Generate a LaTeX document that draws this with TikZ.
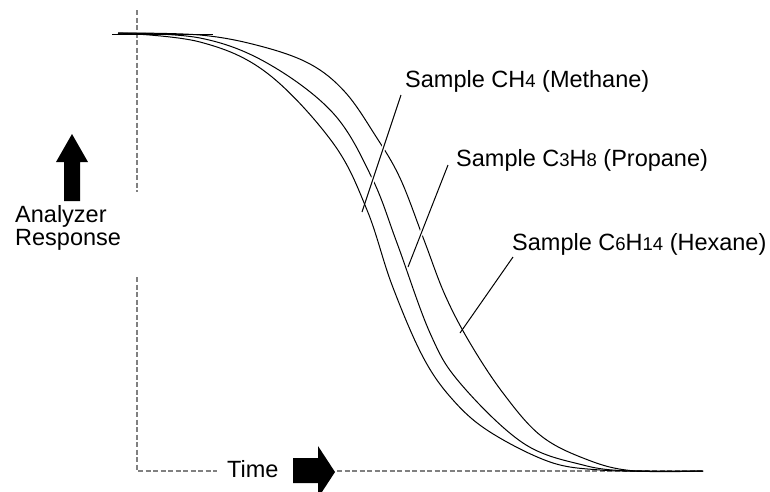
\documentclass[tikz,border=0pt]{standalone}
\usepackage{fontspec}
\setmainfont{Liberation Sans}
\usetikzlibrary{calc}
\newcommand{\sm}[1]{{\fontsize{18.5}{20}\selectfont #1}}
\begin{document}
\begin{tikzpicture}[x=1pt,y=-1pt,
  curve/.style={line width=1pt, black, line join=round},
  axisline/.style={gray, line width=1.3pt, dash pattern=on 5pt off 2.5pt},
  lbl/.style={anchor=base west, inner sep=0pt, font=\fontsize{23.5}{27}\selectfont},
  leader/.style={line width=1pt, black},
  halo/.style={white, line width=4pt},
  bigarrow/.style={fill=black, draw=none}]
\useasboundingbox (0,0) rectangle (770,491);
\clip (0,0) rectangle (770,491);
% axes
\coordinate (yt) at (137,10);
\coordinate (yg1) at (137,192);
\coordinate (yg2) at (137,277);
\coordinate (o) at (137,471);
\coordinate (xg1) at (217,471);
\coordinate (xg2) at (337,471);
\coordinate (xe) at (703,471);
\draw[axisline] (yt) -- (yg1);
\draw[axisline] (yg2) -- (o) -- (xg1);
\draw[axisline] (xg2) -- (xe);
% top line
\coordinate (tl1) at (112,34.5);
\coordinate (tl2) at (213,34.5);
\draw[curve] (tl1) -- (tl2);
% curves
\draw[curve] plot[smooth, tension=0.6] coordinates {(118,33) (200,42) (267,73) (333,143) (367,210) (392,285) (423,357) (453,400) (490,432) (550,462) (600,470) (650,471) (703,471)};
\draw[curve] plot[smooth, tension=0.6] coordinates {(118,33) (200,38) (267,63) (333,113) (372,178) (397,243) (430,333) (460,383) (523,443) (583,465) (630,471) (703,471)};
\draw[curve] plot[smooth, tension=0.6] coordinates {(118,33) (200,35) (260,46) (310,64) (345,92) (375,135) (400,178) (424,240) (445,295) (470,343) (503,393) (540,435) (583,458) (630,470.5) (703,471)};
% labels
\node[lbl] (m) at (405,87) {Sample CH\sm{4} (Methane)};
\node[lbl] (p) at (456,166) {Sample C\sm{3}H\sm{8} (Propane)};
\node[lbl] (h) at (512,250) {Sample C\sm{6}H\sm{14} (Hexane)};
\node[lbl] (a1) at (15,222) {Analyzer};
\node[lbl] (a2) at (15,245) {Response};
\node[lbl] (t) at (227,477) {Time};
% leaders
\coordinate (m1) at (401,95);
\coordinate (m2) at (362,212);
\coordinate (p1) at (448,165);
\coordinate (p2) at (408,267);
\coordinate (h1) at (513,257);
\coordinate (h2) at (460,333);
\draw[halo] ($(m1)!0.15!(m2)$) -- ($(m1)!0.9!(m2)$);
\draw[halo] ($(p1)!0.15!(p2)$) -- ($(p1)!0.9!(p2)$);
\draw[halo] ($(h1)!0.15!(h2)$) -- ($(h1)!0.9!(h2)$);
\draw[leader] (m1) -- (m2);
\draw[leader] (p1) -- (p2);
\draw[leader] (h1) -- (h2);
% big arrows
\fill[bigarrow] (64,201) -- (64,162) -- (56,162) -- (72,134) -- (88,162) -- (80,162) -- (80,201) -- cycle;
\fill[bigarrow] (293,458) -- (318,458) -- (318,446) -- (335,472) -- (318,498) -- (318,483) -- (293,483) -- cycle;
\end{tikzpicture}
\end{document}
